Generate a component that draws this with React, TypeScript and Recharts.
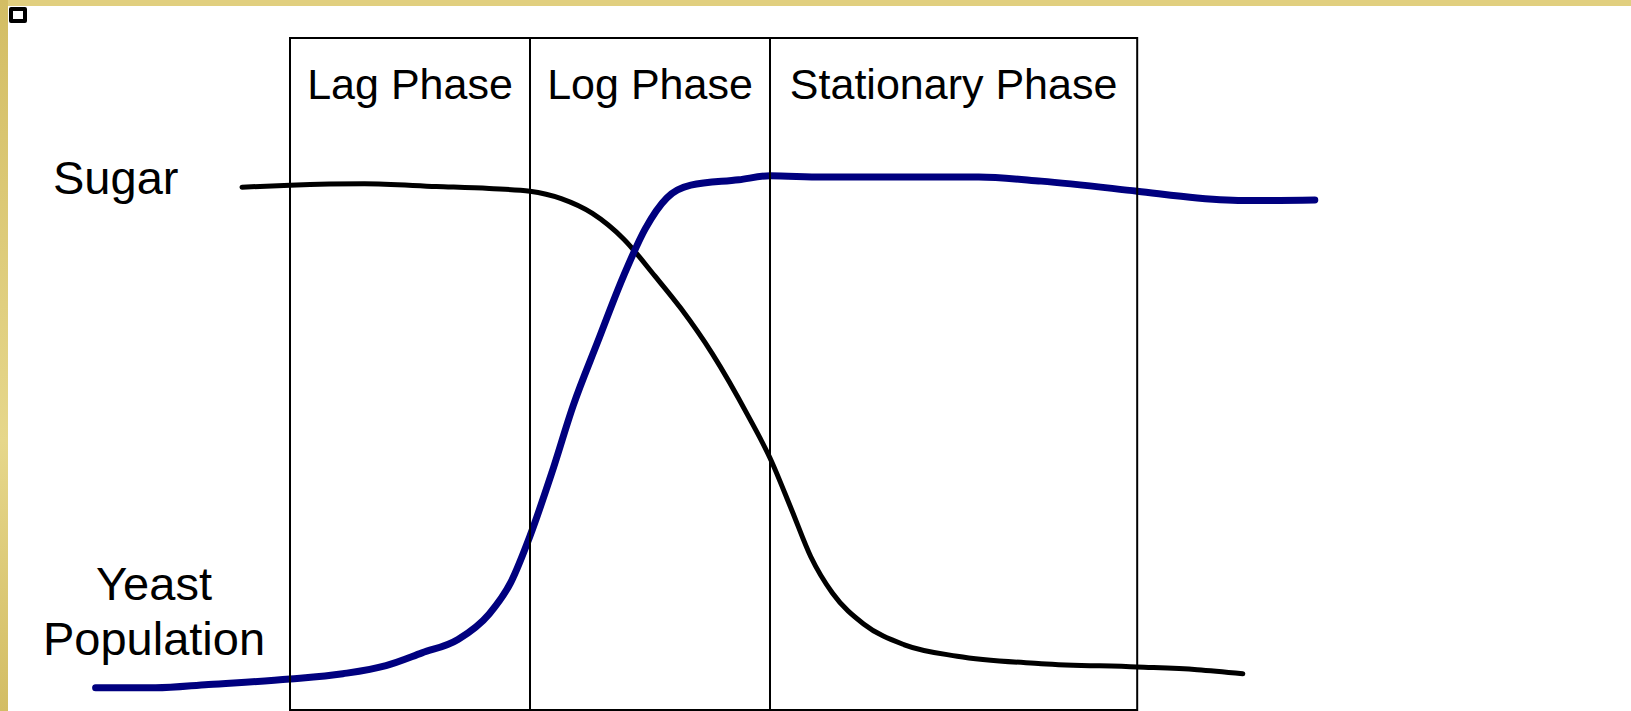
import { LineChart, Line, XAxis, YAxis, ReferenceArea } from 'recharts';

// time axis in arbitrary units (0-100 scale)
const phases = [
  { name: 'Lag Phase', start: 0, end: 10 },
  { name: 'Log Phase', start: 10, end: 20 },
  { name: 'Stationary Phase', start: 20, end: 35.3 },
];

const sugarTime = [-2, 0, 3.1, 6.1, 8.3, 10, 11.3, 12.6, 13.9, 15.2, 16.3, 17.6, 19.1, 20, 20.9, 21.7, 22.6, 23.9, 25.6, 27.8, 31.3, 35.3, 37.8, 39.7];
const sugarLevel = [77.8, 78.1, 78.3, 77.9, 77.6, 77.2, 76.1, 73.9, 70.1, 64.6, 59.7, 53, 43.7, 37.5, 29.8, 22.8, 17.4, 12.8, 9.7, 8, 6.9, 6.4, 6, 5.4];

const yeastTime = [-8.1, -5.6, -3.4, 0, 2.2, 4, 5.5, 7, 8.3, 9.2, 10, 10.9, 11.8, 12.8, 13.9, 14.8, 15.7, 16.7, 18.7, 20, 22.2, 25.2, 28.7, 31.3, 35.3, 37.8, 39.9, 42.7];
const yeastLevel = [3.3, 3.3, 3.8, 4.6, 5.4, 6.6, 8.5, 10.5, 14.3, 19, 25.9, 35.2, 45.3, 54.6, 64.6, 71.6, 76.2, 78.1, 78.9, 79.5, 79.3, 79.3, 79.3, 78.7, 77.2, 76.2, 75.8, 75.9];

const sugarData = sugarTime.map((t, i) => ({ t, v: sugarLevel[i] }));
const yeastData = yeastTime.map((t, i) => ({ t, v: yeastLevel[i] }));

const FONT = '"Liberation Sans", Arial, sans-serif';
const W = 1631;
const H = 711;
const MARGIN = { top: 38, right: 189, bottom: 1, left: 2 };

const App = () => {
  return (
    <div style={{ position: 'absolute', left: 0, top: 0, width: W, height: H, background: '#fff', overflow: 'hidden', fontFamily: FONT }}>
      {/* gold slide frame */}
      <div style={{ position: 'absolute', left: 0, top: 0, width: W, height: 6, background: '#e1cf7f' }} />
      <div style={{ position: 'absolute', left: 0, top: 0, width: 8, height: H, background: 'linear-gradient(#d3bd64, #e6d78b 62%, #d3bd64)' }} />
      <div style={{ position: 'absolute', left: 9, top: 7, width: 10, height: 8, border: '4px solid #000', borderRadius: 2, background: '#fff' }} />

      {/* curves */}
      <div style={{ position: 'absolute', left: 0, top: 0 }}>
        <LineChart width={W} height={H} margin={MARGIN}>
          <XAxis type="number" dataKey="t" domain={[-12, 48]} hide allowDataOverflow />
          <YAxis type="number" domain={[0, 100]} hide />
          <Line data={sugarData} dataKey="v" type="monotone" stroke="#000" strokeWidth={5} strokeLinecap="round" dot={false} isAnimationActive={false} />
          <Line data={yeastData} dataKey="v" type="monotone" stroke="#00007f" strokeWidth={7} strokeLinecap="round" dot={false} isAnimationActive={false} />
        </LineChart>
      </div>

      {/* phase boxes drawn over the curves */}
      <div style={{ position: 'absolute', left: 0, top: 0 }}>
        <LineChart width={W} height={H} margin={MARGIN} data={sugarData}>
          <XAxis type="number" dataKey="t" domain={[-12, 48]} hide allowDataOverflow />
          <YAxis type="number" domain={[0, 100]} hide />
          <Line dataKey="v" stroke="none" dot={false} activeDot={false} isAnimationActive={false} />
          {phases.map((p) => (
            <ReferenceArea
              key={p.name}
              x1={p.start}
              x2={p.end}
              y1={0}
              y2={100}
              fill="none"
              fillOpacity={0}
              stroke="#000"
              strokeWidth={2}
              label={{ value: p.name, position: 'insideTop', offset: 30, fontSize: 43, fill: '#000', fontFamily: FONT }}
            />
          ))}
        </LineChart>
      </div>

      <div style={{ position: 'absolute', left: 53, top: 150, fontSize: 47, lineHeight: '56px', color: '#000' }}>Sugar</div>
      <div style={{ position: 'absolute', left: 40, top: 556, width: 228, textAlign: 'center', fontSize: 47, lineHeight: '55px', color: '#000' }}>
        Yeast
        <br />
        Population
      </div>
    </div>
  );
};

export default App;
